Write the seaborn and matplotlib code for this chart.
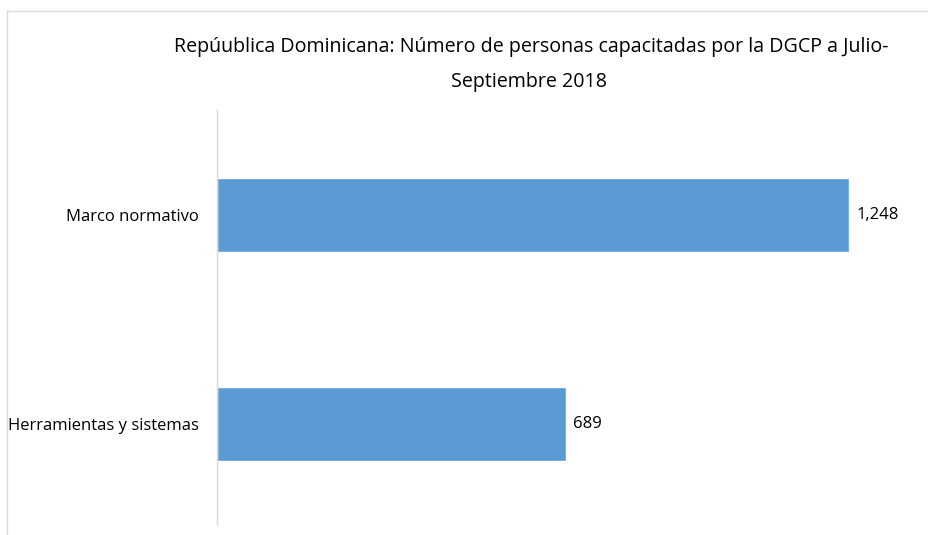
import matplotlib
matplotlib.use("Agg")
import matplotlib.pyplot as plt
from matplotlib.lines import Line2D
import seaborn as sns
import pandas as pd
from matplotlib import font_manager

categories = ["Marco normativo", "Herramientas y sistemas"]
values = [1248, 689]
value_labels = ["1,248", "689"]
title_lines = ["Repúublica Dominicana: Número de personas capacitadas por la DGCP a Julio-",
               "Septiembre 2018"]

sns.set_theme(style="white")
names = {f.name for f in font_manager.fontManager.ttflist}
fam = "Liberation Sans Narrow" if "Liberation Sans Narrow" in names else "Open Sans"
plt.rcParams["font.family"] = [fam, "DejaVu Sans"]

df = pd.DataFrame({"cat": categories, "val": values})

fig = plt.figure(figsize=(9.29, 5.35), dpi=100)
ax = fig.add_axes([217/929, 1-529/535, (926-217)/929, (529-110)/535])
sns.barplot(data=df, y="cat", x="val", color="#5B9BD5", saturation=1, width=0.353, ax=ax)
ax.set_xlim(0, 1400)
ax.set_ylim(1.5, -0.5)
ax.set_xlabel("")
ax.set_ylabel("")
ax.set_xticks([])
for s in ["top", "right", "bottom"]:
    ax.spines[s].set_visible(False)
ax.spines["left"].set_color("#D9D9D9")
ax.spines["left"].set_linewidth(1)
ax.spines["left"].set_bounds(-0.5, 1.48)
ax.tick_params(axis="y", length=0, pad=13, labelsize=12, labelcolor="#000000")
for i, (v, lab) in enumerate(zip(values, value_labels)):
    ax.text(v + 14, i, lab, va="center", ha="left", fontsize=12, color="#000000")

fig.text(531/929, 1-47/535, title_lines[0], ha="center", va="center", fontsize=14.1, color="#000000")
fig.text(529/929, 1-82/535, title_lines[1], ha="center", va="center", fontsize=14.1, color="#000000")

fig.add_artist(Line2D([7/929, 1], [1-11/535, 1-11/535], color="#D9D9D9", lw=1, transform=fig.transFigure))
fig.add_artist(Line2D([7/929, 7/929], [0, 1-11/535], color="#D9D9D9", lw=1, transform=fig.transFigure))

fig.savefig("out.png", dpi=100, facecolor="white")
